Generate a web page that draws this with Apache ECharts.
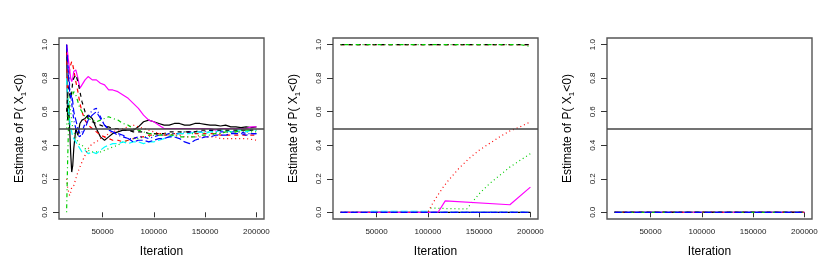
<!DOCTYPE html>
<html>
<head>
<meta charset="utf-8">
<script src="https://cdn.jsdelivr.net/npm/echarts@6/dist/echarts.min.js"></script>
<style>html,body{margin:0;padding:0;background:#fff}#c{width:822px;height:268px}</style>
</head>
<body>
<div id="c"></div>
<script>
// ---------- data ----------
const xTicks = [50000, 100000, 150000, 200000];
const yTicks = [0, 0.2, 0.4, 0.6, 0.8, 1.0];

// Panel 1: running estimates of 10 chains
const iter1 = [15000,16000,17000,18000,19000,20000,21000,22000,24000,26000,28000,30000,33000,36000,40000,44000,48000,52000,56000,60000,
  65000,70000,75000,80000,85000,90000,95000,100000,105000,110000,115000,120000,125000,130000,135000,140000,145000,150000,155000,160000,165000,170000,175000,180000,185000,190000,195000,200000];
const p1_s1 = [1.0,0.55,0.65,0.5,0.35,0.24,0.28,0.38,0.5,0.46,0.53,0.55,0.56,0.58,0.56,0.5,0.45,0.43,0.45,0.47,
  0.48,0.49,0.49,0.49,0.51,0.54,0.55,0.54,0.53,0.52,0.52,0.53,0.53,0.52,0.52,0.53,0.53,0.525,0.52,0.52,0.515,0.52,0.51,0.51,0.505,0.51,0.505,0.51];
const p1_s2 = [1.0,0.7,0.8,0.85,0.88,0.9,0.88,0.85,0.78,0.72,0.65,0.6,0.55,0.52,0.5,0.48,0.46,0.45,0.44,0.43,
  0.43,0.42,0.43,0.44,0.45,0.45,0.46,0.46,0.47,0.46,0.46,0.47,0.47,0.47,0.48,0.47,0.47,0.47,0.47,0.47,0.46,0.46,0.46,0.46,0.46,0.46,0.46,0.46];
const p1_s3 = [0.5,0.6,0.7,0.65,0.6,0.55,0.5,0.48,0.45,0.42,0.4,0.4,0.38,0.37,0.36,0.36,0.36,0.37,0.38,0.39,
  0.4,0.42,0.43,0.44,0.44,0.45,0.45,0.46,0.46,0.47,0.47,0.47,0.47,0.48,0.47,0.47,0.48,0.48,0.48,0.48,0.47,0.48,0.48,0.48,0.48,0.48,0.48,0.48];
const p1_s4 = [1.0,0.95,0.85,0.75,0.7,0.65,0.6,0.55,0.5,0.46,0.45,0.48,0.53,0.57,0.61,0.62,0.57,0.52,0.5,0.48,
  0.46,0.45,0.44,0.44,0.45,0.45,0.44,0.45,0.46,0.46,0.47,0.47,0.47,0.48,0.48,0.48,0.48,0.48,0.49,0.48,0.48,0.48,0.48,0.48,0.48,0.47,0.47,0.47];
const p1_s5 = [0.8,0.7,0.6,0.55,0.5,0.48,0.45,0.44,0.42,0.4,0.38,0.36,0.37,0.35,0.36,0.35,0.37,0.39,0.4,0.41,
  0.41,0.42,0.41,0.42,0.42,0.41,0.42,0.42,0.43,0.44,0.45,0.46,0.47,0.47,0.47,0.48,0.48,0.47,0.48,0.48,0.49,0.49,0.48,0.49,0.49,0.48,0.49,0.49];
const p1_s6 = [1.0,0.95,0.9,0.85,0.8,0.78,0.8,0.84,0.85,0.8,0.74,0.76,0.79,0.81,0.79,0.79,0.77,0.76,0.73,0.73,
  0.72,0.7,0.68,0.65,0.62,0.58,0.55,0.54,0.52,0.5,0.5,0.5,0.5,0.5,0.5,0.5,0.5,0.5,0.5,0.49,0.5,0.5,0.5,0.5,0.5,0.5,0.51,0.51];
const p1_s7 = [0.6,0.7,0.75,0.7,0.68,0.72,0.78,0.8,0.82,0.78,0.72,0.66,0.6,0.56,0.54,0.53,0.52,0.51,0.51,0.5,
  0.5,0.49,0.49,0.48,0.48,0.48,0.47,0.47,0.47,0.47,0.48,0.48,0.48,0.48,0.48,0.48,0.49,0.49,0.49,0.49,0.49,0.49,0.49,0.49,0.49,0.49,0.49,0.49];
const p1_s8 = [0.2,0.15,0.12,0.1,0.12,0.15,0.14,0.16,0.2,0.24,0.27,0.3,0.34,0.38,0.41,0.42,0.44,0.45,0.47,0.48,
  0.49,0.5,0.51,0.52,0.51,0.5,0.49,0.48,0.47,0.47,0.46,0.46,0.46,0.45,0.45,0.45,0.45,0.45,0.45,0.45,0.44,0.44,0.44,0.44,0.44,0.44,0.435,0.43];
const p1_s9 = [0.0,0.3,0.55,0.65,0.7,0.72,0.7,0.72,0.7,0.66,0.62,0.6,0.57,0.56,0.55,0.54,0.55,0.56,0.57,0.56,
  0.55,0.53,0.52,0.5,0.49,0.48,0.47,0.47,0.46,0.46,0.46,0.46,0.45,0.45,0.45,0.45,0.46,0.46,0.46,0.47,0.47,0.48,0.48,0.48,0.49,0.49,0.49,0.49];
const p1_s10 = [1.0,0.9,0.8,0.72,0.68,0.7,0.66,0.6,0.55,0.5,0.47,0.46,0.5,0.55,0.58,0.6,0.56,0.52,0.49,0.48,
  0.47,0.46,0.44,0.42,0.43,0.43,0.42,0.43,0.44,0.44,0.45,0.45,0.44,0.42,0.41,0.43,0.44,0.45,0.45,0.46,0.46,0.46,0.47,0.47,0.47,0.46,0.47,0.47];

// Panel 2
const flatX = [15000, 200000];
const p2_s1 = [0, 0];
const p2_s2 = [1, 1];
const p2_s3_x = [15000,100000,103000,110000,120000,130000,138000,145000,150000,160000,170000,180000,190000,200000];
const p2_s3 = [0,0,0.025,0.024,0.022,0.021,0.02,0.073,0.11,0.17,0.22,0.27,0.31,0.35];
const p2_s4 = [0, 0];
const p2_s5_x = [15000,40000,45000,100000,105000,200000];
const p2_s5 = [0,0,0.005,0.005,0,0];
const p2_s6_x = [15000,110000,117000,180000,200000];
const p2_s6 = [0,0,0.068,0.045,0.15];
const p2_s7 = [1, 1];
const p2_s8_x = [15000,100000,105000,110000,115000,120000,130000,140000,150000,160000,170000,180000,190000,200000];
const p2_s8 = [0,0,0.056,0.105,0.15,0.19,0.26,0.32,0.37,0.41,0.45,0.485,0.51,0.54];
const p2_s9_x = [15000,190000,200000];
const p2_s9 = [1,1,0.99];
const p2_s10 = [0, 0];

// Panel 3: all chains stay at 0
const p3_all = [0, 0];

const refLine = 0.5;

// ---------- styles ----------
const colors = ['#000000','#FF0000','#00CD00','#0000FF','#00FFFF','#FF00FF','#000000','#FF0000','#00CD00','#0000FF'];
const dashes = ['solid',[4,4],[1,3],[1,3,4,3],[7,3],'solid',[4,4],[1,3],[1,3,4,3],[7,3]];
const FONT = 'Liberation Sans, Arial, Helvetica, sans-serif';

function pairs(xs, ys){ return xs.map((x,i)=>[x, ys[i]]); }

const panelData = [
  [p1_s1,p1_s2,p1_s3,p1_s4,p1_s5,p1_s6,p1_s7,p1_s8,p1_s9,p1_s10].map(ys=>pairs(iter1, ys)),
  [pairs(flatX,p2_s1), pairs(flatX,p2_s2), pairs(p2_s3_x,p2_s3), pairs(flatX,p2_s4), pairs(p2_s5_x,p2_s5),
   pairs(p2_s6_x,p2_s6), pairs(flatX,p2_s7), pairs(p2_s8_x,p2_s8), pairs(p2_s9_x,p2_s9), pairs(flatX,p2_s10)],
  Array.from({length:10}, ()=>pairs(flatX, p3_all))
];

const lefts = [59, 333, 607];
const grids = lefts.map(l => ({left:l, top:38, width:205, height:181, show:true, borderColor:'#555', borderWidth:1.4, backgroundColor:'transparent'}));

const xAxes = lefts.map((l,i)=>({
  type:'value', gridIndex:i, min:7600, max:207400,
  name:'Iteration', nameLocation:'middle', nameGap:27,
  nameTextStyle:{fontFamily:FONT, fontSize:12, color:'#000'},
  axisLine:{show:false}, splitLine:{show:false},
  axisTick:{show:true, inside:false, length:5, customValues:xTicks, lineStyle:{color:'#333'}},
  axisLabel:{customValues:xTicks, margin:9, fontFamily:FONT, fontSize:8, color:'#222', formatter:v=>String(v)}
}));

const yAxes = lefts.map((l,i)=>({
  type:'value', gridIndex:i, min:-0.04, max:1.04,
  name:'Estimate of P( X{s|1}<0)', nameLocation:'middle', nameGap:31, nameRotate:90,
  nameTextStyle:{fontFamily:FONT, fontSize:12, color:'#000', rich:{s:{fontFamily:FONT, fontSize:8, color:'#000', padding:[8,0,0,0], verticalAlign:'bottom'}}},
  axisLine:{show:false}, splitLine:{show:false},
  axisTick:{show:true, inside:false, length:6, customValues:yTicks, lineStyle:{color:'#333'}},
  axisLabel:{customValues:yTicks, rotate:90, margin:10, fontFamily:FONT, fontSize:8, color:'#222', formatter:v=>v.toFixed(1)}
}));

const series = [];
panelData.forEach((list, p) => {
  list.forEach((d, k) => {
    series.push({
      type:'line', xAxisIndex:p, yAxisIndex:p, data:d, showSymbol:false, symbol:'none',
      animation:false, silent:true, clip:true,
      lineStyle:{color:colors[k], width:1.2, type:dashes[k]}
    });
  });
  series.push({
    type:'line', xAxisIndex:p, yAxisIndex:p, data:[], showSymbol:false, animation:false, silent:true,
    markLine:{symbol:['none','none'], silent:true, animation:false, label:{show:false},
      lineStyle:{color:'#444', width:1.5, type:'solid'}, data:[{yAxis:refLine}]}
  });
});

const chart = echarts.init(document.getElementById('c'), null, {renderer:'canvas'});
chart.setOption({animation:false, backgroundColor:'#fff', grid:grids, xAxis:xAxes, yAxis:yAxes, series:series});
</script>
</body>
</html>
